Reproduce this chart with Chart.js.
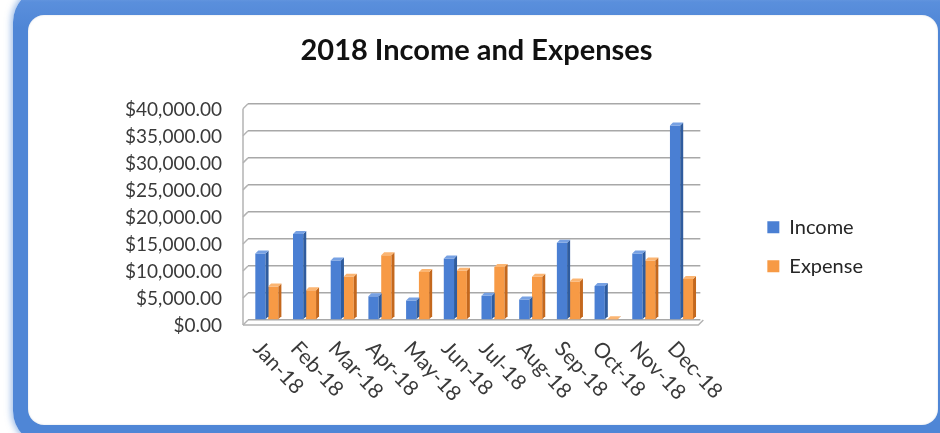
<!DOCTYPE html>
<html>
<head>
<meta charset="utf-8">
<script src="https://cdn.jsdelivr.net/npm/chart.js@4.4.1/dist/chart.umd.min.js"></script>
<style>
  html, body { margin: 0; padding: 0; background: #ffffff; width: 940px; height: 433px; overflow: hidden; }
  #frame {
    position: absolute; left: 13px; top: -12px; width: 940px; height: 457px;
    border-radius: 34px;
    background: linear-gradient(to bottom, #8fb4ea 0px, #5a8fdc 14px, #4f86d6 40px, #4f86d6 100%);
    box-shadow: 0 0 6px 2px rgba(79,134,214,0.55);
  }
  #inner {
    position: absolute; left: 28px; top: 15px; width: 910px; height: 410px;
    border-radius: 16px; background: #ffffff;
    box-shadow: inset 0 0 2px rgba(120,140,170,0.35);
  }
  #wrap { position: absolute; left: 0; top: 0; width: 940px; height: 433px; }
</style>
</head>
<body>
<div id="frame"></div>
<div id="inner"></div>
<div id="wrap"><canvas id="c" width="940" height="433"></canvas></div>
<script>
// ---- data ----
const categories = ['Jan-18','Feb-18','Mar-18','Apr-18','May-18','Jun-18','Jul-18','Aug-18','Sep-18','Oct-18','Nov-18','Dec-18'];
const incomeValues  = [12300, 15900, 11000, 4400, 3600, 11400, 4500, 3800, 14300, 6300, 12300, 36000];
const expenseValues = [6200, 5500, 8000, 12000, 8900, 9100, 9800, 8000, 7100, 100, 11000, 7600];
const yTickMin = 0;
const yTickMax = 40000;
const yTickStep = 5000;
const chartTitle = '2018 Income and Expenses';
const seriesNames = ['Income', 'Expense'];

// ---- styling ----
const FONT = 'Lato';
const DEPTH = 3;
const faceColors = [
  { front: '#4a7fd3', side: '#2f5c9e', top: '#77a1e3' },
  { front: '#f79a45', side: '#c4681d', top: '#fbb572' }
];

Chart.defaults.font.family = FONT;
Chart.defaults.color = '#3a3a3a';

function fmtMoney(v) {
  return '$' + Number(v).toLocaleString('en-US', { minimumFractionDigits: 2, maximumFractionDigits: 2 });
}

const frame3d = {
  id: 'frame3d',
  beforeDatasetsDraw(chart) {
    const { ctx, chartArea: a, scales } = chart;
    const y = scales.y;
    ctx.save();
    ctx.strokeStyle = '#b3b3b3';
    ctx.lineWidth = 1.5;
    ctx.beginPath();
    ctx.moveTo(a.left - 5, a.top + 5);
    ctx.lineTo(a.left - 5, a.bottom + 5);
    ctx.stroke();
    y.ticks.forEach((t, i) => {
      const py = y.getPixelForTick(i);
      ctx.beginPath();
      ctx.moveTo(a.left - 5, py + 5);
      ctx.lineTo(a.left, py);
      ctx.stroke();
    });
    ctx.beginPath();
    ctx.moveTo(a.left - 5, a.bottom + 5);
    ctx.lineTo(a.right - 2, a.bottom + 5);
    ctx.lineTo(a.right + 3, a.bottom);
    ctx.stroke();
    ctx.restore();
  },
  afterDatasetsDraw(chart) {
    const { ctx } = chart;
    ctx.save();
    chart.data.datasets.forEach((ds, di) => {
      const meta = chart.getDatasetMeta(di);
      const c = faceColors[di];
      meta.data.forEach((bar) => {
        const p = bar.getProps(['x', 'y', 'base', 'width'], true);
        const xl = p.x - p.width / 2, xr = p.x + p.width / 2;
        const top = Math.min(p.y, p.base), bot = Math.max(p.y, p.base);
        ctx.fillStyle = c.side;
        ctx.beginPath();
        ctx.moveTo(xr, top);
        ctx.lineTo(xr + DEPTH, top - DEPTH);
        ctx.lineTo(xr + DEPTH, bot - DEPTH);
        ctx.lineTo(xr, bot);
        ctx.closePath();
        ctx.fill();
        ctx.fillStyle = c.top;
        ctx.beginPath();
        ctx.moveTo(xl, top);
        ctx.lineTo(xl + DEPTH, top - DEPTH);
        ctx.lineTo(xr + DEPTH, top - DEPTH);
        ctx.lineTo(xr, top);
        ctx.closePath();
        ctx.fill();
      });
    });
    ctx.restore();
  },
  afterDraw(chart) {
    const { ctx, scales, chartArea: a } = chart;
    const x = scales.x;
    ctx.save();
    ctx.font = '21px ' + FONT;
    ctx.fillStyle = '#3a3a3a';
    ctx.textAlign = 'left';
    ctx.textBaseline = 'middle';
    categories.forEach((lab, i) => {
      const px = x.getPixelForTick(i);
      ctx.save();
      ctx.translate(px - 10, a.bottom + 25);
      ctx.rotate(47 * Math.PI / 180);
      ctx.fillText(lab, 0, 0);
      ctx.restore();
    });
    ctx.restore();
  }
};

new Chart(document.getElementById('c'), {
  type: 'bar',
  data: {
    labels: categories,
    datasets: [
      { label: seriesNames[0], data: incomeValues, backgroundColor: faceColors[0].front, borderWidth: 0 },
      { label: seriesNames[1], data: expenseValues, backgroundColor: faceColors[1].front, borderWidth: 0 }
    ]
  },
  options: {
    responsive: false,
    animation: false,
    layout: { padding: { left: 80, right: 67, top: 0, bottom: 0 } },
    datasets: { bar: { categoryPercentage: 0.68, barPercentage: 0.8 } },
    scales: {
      x: {
        grid: { display: false },
        border: { display: false },
        ticks: { display: false },
        afterFit(s) { s.height = 113; }
      },
      y: {
        min: yTickMin, max: yTickMax,
        grid: { color: '#a8a8a8', lineWidth: 1.5, drawTicks: false },
        border: { display: false },
        ticks: {
          stepSize: yTickStep, padding: 26, labelOffset: 6,
          font: { size: 19, family: FONT }, color: '#3a3a3a',
          callback: (v) => fmtMoney(v)
        },
        afterFit(s) { s.width = 168; }
      },
      y2: {
        type: 'linear', position: 'right', display: true,
        grid: { display: false }, border: { display: false },
        ticks: { display: false },
        afterFit(s) { s.width = 48; }
      }
    },
    plugins: {
      title: {
        display: true, text: chartTitle, color: '#111111',
        font: { size: 29, weight: 'bold', family: FONT },
        padding: { top: 33, bottom: 36 }
      },
      legend: {
        position: 'right',
        title: { display: true, text: '', padding: { top: 46, bottom: 0 }, font: { size: 12 } },
        labels: {
          boxWidth: 12, boxHeight: 12, padding: 19,
          font: { size: 20, family: FONT }, color: '#262626'
        }
      },
      tooltip: { enabled: false }
    }
  },
  plugins: [frame3d]
});
</script>
</body>
</html>
